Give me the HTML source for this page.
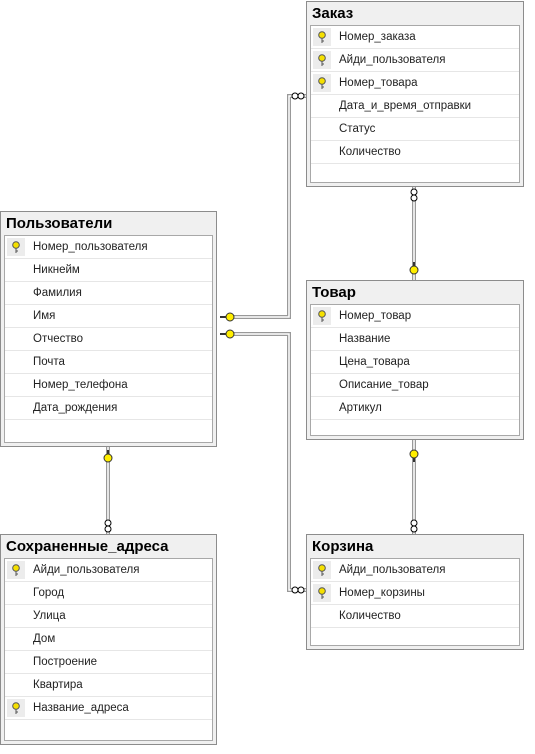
<!DOCTYPE html>
<html><head><meta charset="utf-8"><style>
body{margin:0;width:535px;height:754px;background:#fff;position:relative;overflow:hidden;font-family:"Liberation Sans","DejaVu Sans",sans-serif}
.t{position:absolute;border:1px solid #8c8c8c;background:#f0f0f0;box-sizing:border-box}
.t .h{position:absolute;left:5px;top:3px;font-weight:bold;font-size:15px;color:#000}
.t .b{position:absolute;left:3px;right:3px;top:23px;bottom:3px;background:#fff;border:1px solid #a8a8a8}
.r{height:22px;border-bottom:1px solid #e6e6e6;position:relative;font-size:11.5px;line-height:22px;color:#222}
.r span{position:absolute;left:28px}
.r .k{position:absolute;left:2px;top:2px;width:18px;height:18px;background:#ececec}
.r .k svg{position:absolute;left:4px;top:3px}
.b .col{position:absolute;left:22px;top:0;bottom:0;border-left:1px solid #eee}
</style></head><body>
<svg width="535" height="754" style="position:absolute;left:0;top:0">
<g fill="none" stroke="#999" stroke-width="4"><path d="M306 96H289V317H230"/><path d="M230 334H289V590H306"/><path d="M414 187V280"/><path d="M414 440V534"/><path d="M108 447V534"/></g>
<g fill="none" stroke="#fff" stroke-width="1.5"><path d="M306 96H289V317H230"/><path d="M230 334H289V590H306"/><path d="M414 187V280"/><path d="M414 440V534"/><path d="M108 447V534"/></g>
<g fill="#fff" stroke="#000" stroke-width="1"><circle cx="295" cy="96" r="3"/><circle cx="301" cy="96" r="3"/><circle cx="295" cy="590" r="3"/><circle cx="301" cy="590" r="3"/><circle cx="414" cy="192" r="3"/><circle cx="414" cy="198" r="3"/><circle cx="414" cy="523" r="3"/><circle cx="414" cy="529" r="3"/><circle cx="108" cy="523" r="3"/><circle cx="108" cy="529" r="3"/></g>
<g fill="#ffee00" stroke="#333" stroke-width="1"><circle cx="230" cy="317" r="4"/><circle cx="230" cy="334" r="4"/><circle cx="414" cy="270" r="4"/><circle cx="414" cy="454" r="4"/><circle cx="108" cy="458" r="4"/></g>
<g stroke="#333" stroke-width="2"><path d="M220 317H226M220 334H226M414 262V266M414 458V462M108 450V454"/></g>
</svg>

<div class="t" style="left:306px;top:1px;width:218px;height:186px"><div class="h">Заказ</div><div class="b">
<div class="r"><div class="k"><svg width="10" height="13"><circle cx="5" cy="4" r="3.3" fill="#f5e000" stroke="#555"/><path d="M5 7V12M5 10H7" stroke="#555"/></svg></div><span>Номер_заказа</span></div>
<div class="r"><div class="k"><svg width="10" height="13"><circle cx="5" cy="4" r="3.3" fill="#f5e000" stroke="#555"/><path d="M5 7V12M5 10H7" stroke="#555"/></svg></div><span>Айди_пользователя</span></div>
<div class="r"><div class="k"><svg width="10" height="13"><circle cx="5" cy="4" r="3.3" fill="#f5e000" stroke="#555"/><path d="M5 7V12M5 10H7" stroke="#555"/></svg></div><span>Номер_товара</span></div>
<div class="r"><span>Дата_и_время_отправки</span></div>
<div class="r"><span>Статус</span></div>
<div class="r"><span>Количество</span></div>
</div></div>

<div class="t" style="left:0px;top:211px;width:217px;height:236px"><div class="h">Пользователи</div><div class="b">
<div class="r"><div class="k"><svg width="10" height="13"><circle cx="5" cy="4" r="3.3" fill="#f5e000" stroke="#555"/><path d="M5 7V12M5 10H7" stroke="#555"/></svg></div><span>Номер_пользователя</span></div>
<div class="r"><span>Никнейм</span></div>
<div class="r"><span>Фамилия</span></div>
<div class="r"><span>Имя</span></div>
<div class="r"><span>Отчество</span></div>
<div class="r"><span>Почта</span></div>
<div class="r"><span>Номер_телефона</span></div>
<div class="r"><span>Дата_рождения</span></div>
</div></div>

<div class="t" style="left:306px;top:280px;width:218px;height:160px"><div class="h">Товар</div><div class="b">
<div class="r"><div class="k"><svg width="10" height="13"><circle cx="5" cy="4" r="3.3" fill="#f5e000" stroke="#555"/><path d="M5 7V12M5 10H7" stroke="#555"/></svg></div><span>Номер_товар</span></div>
<div class="r"><span>Название</span></div>
<div class="r"><span>Цена_товара</span></div>
<div class="r"><span>Описание_товар</span></div>
<div class="r"><span>Артикул</span></div>
</div></div>

<div class="t" style="left:0px;top:534px;width:217px;height:211px"><div class="h">Сохраненные_адреса</div><div class="b">
<div class="r"><div class="k"><svg width="10" height="13"><circle cx="5" cy="4" r="3.3" fill="#f5e000" stroke="#555"/><path d="M5 7V12M5 10H7" stroke="#555"/></svg></div><span>Айди_пользователя</span></div>
<div class="r"><span>Город</span></div>
<div class="r"><span>Улица</span></div>
<div class="r"><span>Дом</span></div>
<div class="r"><span>Построение</span></div>
<div class="r"><span>Квартира</span></div>
<div class="r"><div class="k"><svg width="10" height="13"><circle cx="5" cy="4" r="3.3" fill="#f5e000" stroke="#555"/><path d="M5 7V12M5 10H7" stroke="#555"/></svg></div><span>Название_адреса</span></div>
</div></div>

<div class="t" style="left:306px;top:534px;width:218px;height:116px"><div class="h">Корзина</div><div class="b">
<div class="r"><div class="k"><svg width="10" height="13"><circle cx="5" cy="4" r="3.3" fill="#f5e000" stroke="#555"/><path d="M5 7V12M5 10H7" stroke="#555"/></svg></div><span>Айди_пользователя</span></div>
<div class="r"><div class="k"><svg width="10" height="13"><circle cx="5" cy="4" r="3.3" fill="#f5e000" stroke="#555"/><path d="M5 7V12M5 10H7" stroke="#555"/></svg></div><span>Номер_корзины</span></div>
<div class="r"><span>Количество</span></div>
</div></div>
</body></html>
